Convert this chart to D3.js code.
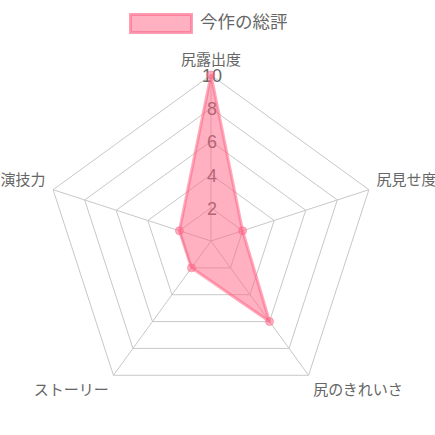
<!DOCTYPE html>
<html>
<head>
  <meta charset="UTF-8">
  <style>
    body { margin: 0; background: white; }
    svg text {
        font-family: "Liberation Sans", "Noto Sans CJK JP", sans-serif;
        fill: #666;
    }
  </style>
</head>
<body>
<svg id="chart" width="435" height="435"></svg>

<script src="https://d3js.org/d3.v7.min.js"></script>
<script>

// data
let labels = ["尻露出度", "尻見せ度", "尻のきれいさ", "ストーリー", "演技力"];
let values = [10, 2, 6, 2, 2];
let seriesName = "今作の総評";
let ticks = [2, 4, 6, 8, 10];

let cx = 211, cy = 241, radius = 166;
let pink = "rgb(255,99,132)";
let pinkFill = "rgba(255,99,132,0.5)";
let gridColor = "#c8c8c8";

let svg = d3.select("#chart");

let r = d3.scaleLinear().domain([0, 10]).range([0, radius]);
let angle = d3.scaleLinear().domain([0, labels.length]).range([0, 2 * Math.PI]);

function pt(i, v) {
    let a = angle(i);
    return [cx + r(v) * Math.sin(a), cy - r(v) * Math.cos(a)];
}

let g = svg.append("g");

// grid rings
g.selectAll("polygon.ring")
    .data(ticks)
    .enter()
    .append("polygon")
    .attr("class", "ring")
    .attr("points", t => labels.map((d, i) => pt(i, t).join(",")).join(" "))
    .attr("fill", "none")
    .attr("stroke", gridColor)
    .attr("stroke-width", 1);

// angle lines
g.selectAll("line.spoke")
    .data(labels)
    .enter()
    .append("line")
    .attr("x1", cx).attr("y1", cy)
    .attr("x2", (d, i) => pt(i, 10)[0])
    .attr("y2", (d, i) => pt(i, 10)[1])
    .attr("stroke", gridColor)
    .attr("stroke-width", 1);

// tick labels (drawn under the fill)
g.selectAll("text.tick")
    .data(ticks)
    .enter()
    .append("text")
    .attr("x", cx + 1)
    .attr("y", t => cy - r(t) + 1)
    .attr("text-anchor", "middle")
    .attr("dominant-baseline", "central")
    .style("font-size", "18px")
    .text(t => t);

// point labels, placed the way chart.js does
g.selectAll("text.plabel")
    .data(labels)
    .enter()
    .append("text")
    .attr("x", (d, i) => {
        let a = angle(i);
        return cx + (radius + 8) * Math.sin(a);
    })
    .attr("y", (d, i) => {
        let a = angle(i) * 180 / Math.PI;
        let y = cy - (radius + 8) * Math.cos(angle(i));
        if (a == 90 || a == 270) return y;
        if (a < 90 || a > 270) return y - 7.5;
        return y + 7.5;
    })
    .attr("text-anchor", (d, i) => {
        let a = Math.round(angle(i) * 180 / Math.PI);
        if (a == 0 || a == 180) return "middle";
        return a < 180 ? "start" : "end";
    })
    .attr("dominant-baseline", "central")
    .style("font-size", "15px")
    .text(d => d);

// data polygon
let line = d3.line().curve(d3.curveLinearClosed);
g.append("path")
    .datum(values)
    .attr("d", vals => line(vals.map((v, i) => pt(i, v))))
    .attr("fill", pinkFill)
    .attr("stroke", pink)
    .attr("stroke-opacity", 0.55)
    .attr("stroke-width", 3)
    .attr("stroke-linejoin", "round");

g.selectAll("circle.pt")
    .data(values)
    .enter()
    .append("circle")
    .attr("cx", (v, i) => pt(i, v)[0])
    .attr("cy", (v, i) => pt(i, v)[1])
    .attr("r", 4)
    .attr("fill", pinkFill)
    .attr("stroke", pink)
    .attr("stroke-opacity", 0.5)
    .attr("stroke-width", 1);

// legend
let legend = svg.append("g");
legend.append("rect")
    .attr("x", 130.5).attr("y", 14.5)
    .attr("width", 61).attr("height", 18)
    .attr("fill", pinkFill)
    .attr("stroke", pink)
    .attr("stroke-opacity", 0.6)
    .attr("stroke-width", 3);
legend.append("text")
    .attr("x", 200)
    .attr("y", 22)
    .attr("dominant-baseline", "central")
    .style("font-size", "17.5px")
    .text(seriesName);

</script>
</body>
</html>
